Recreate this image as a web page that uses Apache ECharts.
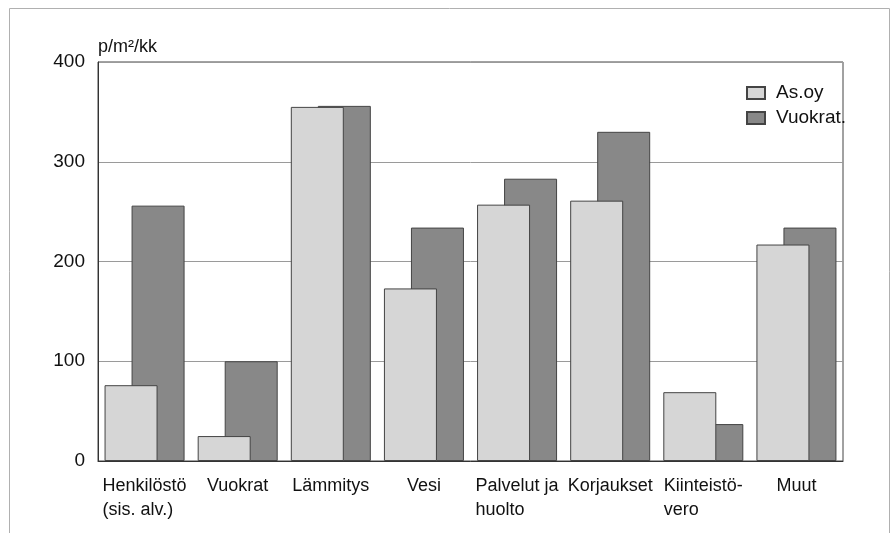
<!DOCTYPE html>
<html>
<head>
<meta charset="utf-8">
<script src="https://cdn.jsdelivr.net/npm/echarts@6/dist/echarts.min.js"></script>
<style>
html,body{margin:0;padding:0;background:#fff;}
#c{width:893px;height:533px;}
</style>
</head>
<body>
<div id="c"></div>
<script>
const categories = ['Henkilöstö\n(sis. alv.)', 'Vuokrat', 'Lämmitys', 'Vesi', 'Palvelut ja\nhuolto', 'Korjaukset', 'Kiinteistö-\nvero', 'Muut'];
const asOy = [76, 25, 355, 173, 257, 261, 69, 217];
const vuokrat = [256, 100, 356, 234, 283, 330, 37, 234];
const seriesNames = ['As.oy', 'Vuokrat.'];
const yTicks = [0, 100, 200, 300, 400];

const FONT = "'Liberation Sans Narrow', 'Arial Narrow', 'Liberation Sans', sans-serif";
const chart = echarts.init(document.getElementById('c'));
chart.setOption({
  backgroundColor: '#ffffff',
  animation: false,
  graphic: [{
    type: 'rect', silent: true,
    shape: { x: 9.5, y: 8.5, width: 880, height: 600 },
    style: { fill: 'none', stroke: '#b0b0b0', lineWidth: 1 }
  }],
  grid: { left: 98, right: 50, top: 62, bottom: 72, show: true, borderColor: '#444', borderWidth: 1 },
  legend: {
    orient: 'vertical', left: 741, top: 78,
    icon: 'rect',
    itemWidth: 18, itemHeight: 12, itemGap: 5,
    data: seriesNames,
    textStyle: { fontFamily: FONT, fontSize: 19, color: '#111', lineHeight: 20, padding: [0, 0, 0, 6] }
  },
  xAxis: {
    type: 'category', data: categories,
    axisLine: { lineStyle: { color: '#333' } },
    axisTick: { show: false },
    axisLabel: {
      interval: 0, margin: 13, color: '#111', fontFamily: FONT, fontSize: 18, lineHeight: 24,
      formatter: v => v.split('\n').map(l => '{l|' + l + '}').join('\n'),
      rich: { l: { align: 'left', fontFamily: FONT, fontSize: 18, lineHeight: 24, color: '#111' } }
    }
  },
  yAxis: {
    type: 'value', min: yTicks[0], max: yTicks[yTicks.length - 1], interval: 100,
    name: 'p/m²/kk', nameLocation: 'end', nameGap: 6,
    nameTextStyle: { fontFamily: FONT, fontSize: 18, color: '#111', align: 'left', verticalAlign: 'bottom' },
    axisLine: { show: true, lineStyle: { color: '#333' } },
    axisTick: { show: false },
    axisLabel: { margin: 13, color: '#111', fontFamily: FONT, fontSize: 19 },
    splitLine: { lineStyle: { color: '#9a9a9a' } }
  },
  series: [
    { name: seriesNames[0], type: 'bar', data: asOy, z: 3, barWidth: 53, barGap: '-49%',
      itemStyle: { color: '#d6d6d6', borderColor: '#444', borderWidth: 1 } },
    { name: seriesNames[1], type: 'bar', data: vuokrat, z: 2, barWidth: 53, barGap: '-49%',
      itemStyle: { color: '#888888', borderColor: '#444', borderWidth: 1 } }
  ]
});
</script>
</body>
</html>
